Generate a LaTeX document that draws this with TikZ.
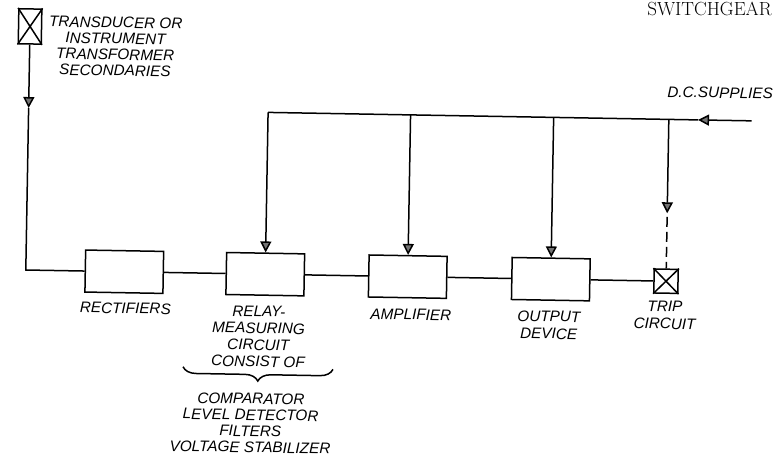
\documentclass[tikz,border=0pt]{standalone}
\usepackage{fontspec}
\newfontfamily\labfont{Liberation Sans}
\usetikzlibrary{arrows.meta,decorations.pathreplacing}
\tikzset{
  wire/.style={line width=1.5pt},
  blk/.style={draw, line width=1.5pt, minimum width=78pt, minimum height=42pt, inner sep=0pt},
  xbox/.style={draw, line width=1.5pt, inner sep=0pt},
  lbl/.style={font=\labfont\itshape\fontsize{15.3}{#1}\selectfont, align=center, inner sep=0pt, anchor=north},
  lbl/.default=17,
  tipd/.style={-{Triangle[length=11pt,width=11pt,fill=black!55]}},
}
\begin{document}
\begin{tikzpicture}[x=1pt,y=-1pt]
\useasboundingbox (0,0) rectangle (775,466);
\fill[white] (0,0) rectangle (775,466);
\clip (0,0) rectangle (775,466);
% page header
\node[anchor=base east, inner sep=0pt, font=\fontsize{19}{22}\selectfont] (hdr) at (772,15) {SWITCHGEAR};
\begin{scope}[rotate around={-1:(387,233)}, transform shape]
  % transducer
  \node[xbox, minimum width=23pt, minimum height=35pt] (td) at (26.5,32.7) {};
  \draw[wire] (td.north west) -- (td.south east) (td.north east) -- (td.south west);
  \node[lbl=16] (tdl) at (112.2,21.7) {TRANSDUCER OR\\INSTRUMENT\\TRANSFORMER\\SECONDARIES};

  % blocks
  \node[blk] (rect)  at (125,276.3) {};
  \node[blk] (relay) at (266,276.3) {};
  \node[blk] (amp)   at (408.5,276.3) {};
  \node[blk] (out)   at (551.6,276.3) {};
  \node[xbox, minimum width=24pt, minimum height=24pt] (trip) at (666.8,276.3) {};
  \draw[wire] (trip.north west) -- (trip.south east) (trip.north east) -- (trip.south west);

  % coordinates
  \coordinate (tdA) at (26.5,114.3);
  \coordinate (corner) at (26.5,276.3);
  \coordinate (busL) at (266,114.5);
  \coordinate (bus2) at (408.5,114.5);
  \coordinate (bus3) at (551.6,114.5);
  \coordinate (bus4) at (666.8,114.5);
  \coordinate (busA) at (696,114.5);
  \coordinate (busR) at (749.7,114.5);
  \coordinate (tripA) at (666.8,208.4);
  \coordinate (tripD) at (666.8,212);

  % signal path
  \draw[wire,tipd] (td.south) -- (tdA);
  \draw[wire] (tdA) -- (corner) -- (rect.west);
  \draw[wire] (rect.east) -- (relay.west);
  \draw[wire] (relay.east) -- (amp.west);
  \draw[wire] (amp.east) -- (out.west);
  \draw[wire] (out.east) -- (trip.west);

  % d.c. supply bus
  \draw[wire,tipd] (busR) -- (busA);
  \draw[wire] (busA) -- (busL);
  \draw[wire,tipd] (busL) -- (relay.north);
  \draw[wire,tipd] (bus2) -- (amp.north);
  \draw[wire,tipd] (bus3) -- (out.north);
  \draw[wire,tipd] (bus4) -- (tripA);
  \draw[wire,dash pattern=on 10pt off 5pt] (tripD) -- (trip.north);

  % labels
  \node[lbl] (dcl) at (717.6,81.5) {D.C.SUPPLIES};
  \node[lbl] (rectl) at (126.7,307.2) {RECTIFIERS};
  \node[lbl=16.7] (relayl) at (260.3,308.2) {RELAY-\\MEASURING\\CIRCUIT\\CONSIST OF};
  \node[lbl] (ampl) at (412.3,308.6) {AMPLIFIER};
  \node[lbl=17.3] (outl) at (550.4,307.9) {OUTPUT\\DEVICE};
  \node[lbl=17.3] (tripl) at (666.2,296.1) {TRIP\\CIRCUIT};

  % brace and list
  \coordinate (brL) at (185.4,370.3);
  \coordinate (brR) at (335.4,370.3);
  \draw[wire, decorate, decoration={brace, mirror, amplitude=13pt}] (brL) -- (brR);
  \node[lbl=16.2] (comp) at (253.8,395.4) {COMPARATOR\\LEVEL DETECTOR\\FILTERS\\VOLTAGE STABILIZER};
\end{scope}
\end{tikzpicture}
\end{document}
